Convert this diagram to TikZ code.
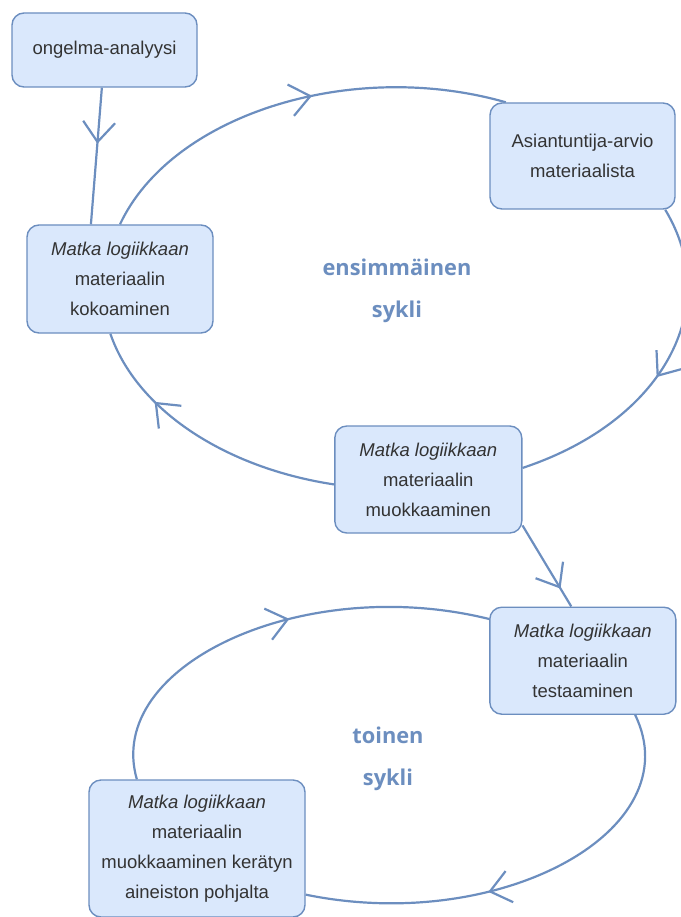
\documentclass[tikz,border=0pt]{standalone}
\usepackage{fontspec}
\setmainfont{Liberation Sans}
\newfontfamily\headfont{Open Sans}
\usetikzlibrary{arrows.meta,decorations.markings,backgrounds}
\definecolor{linecolor}{HTML}{6C8EBF}
\definecolor{boxfill}{HTML}{DAE8FC}
\definecolor{txtcolor}{HTML}{333333}
\tikzset{
  stepbox/.style={draw=linecolor, fill=boxfill, line width=1.4pt, rounded corners=12pt,
    text=txtcolor, align=center, inner sep=0pt, font=\fontsize{18.5}{30}\selectfont},
  cycleln/.style={linecolor, line width=2.2pt},
  cyclebarb/.tip={Straight Barb[length=20pt,width=32pt]},
  midarrow/.style={postaction={decorate, decoration={markings,
    mark=at position #1 with {\arrow{cyclebarb}}}}},
  cyclename/.style={text=linecolor, align=center,
    font=\headfont\bfseries\fontsize{21.8}{42}\selectfont},
}

\begin{document}
\begin{tikzpicture}[x=1pt, y=-1pt]
    \useasboundingbox (0,0) rectangle (680,917);
    % Boxes
    \node[stepbox, minimum width=185pt, minimum height=74pt] (ong) at (104.5,50) {ongelma-analyysi};
    \node[stepbox, minimum width=186pt, minimum height=108pt] (kok) at (120,279)
      {\textit{Matka logiikkaan}\\materiaalin\\kokoaminen};
    \node[stepbox, minimum width=185pt, minimum height=106pt] (asi) at (582.5,156)
      {Asiantuntija-arvio\\materiaalista};
    \node[stepbox, minimum width=187pt, minimum height=107pt] (muok) at (428.3,479.5)
      {\textit{Matka logiikkaan}\\materiaalin\\muokkaaminen};
    \node[stepbox, minimum width=186pt, minimum height=107pt] (test) at (582.8,660.7)
      {\textit{Matka logiikkaan}\\materiaalin\\testaaminen};
    \node[stepbox, minimum width=216pt, minimum height=137pt] (ker) at (197,848.5)
      {\textit{Matka logiikkaan}\\materiaalin\\muokkaaminen kerätyn\\aineiston pohjalta};
    % Cycle names
    \node[cyclename] (first) at (397,291) {ensimmäinen\\sykli};
    \node[cyclename] (second) at (388,759) {toinen\\sykli};
    \begin{scope}[on background layer]
      % First cycle
      \draw[cycleln, midarrow=0.55] (kok.north) .. controls (171.7,114.1) and (352.1,58.3) .. (asi.145);
      \draw[cycleln, midarrow=0.52] (asi.-33) .. controls (724.6,308.1) and (662.3,421.7) .. (muok.7);
      \draw[cycleln, midarrow=0.71] (muok.183) .. controls (223.6,467.7) and (136.1,408.9) .. (kok.-100);
      % Second cycle
      \draw[cycleln, midarrow=0.59] (test.-46) .. controls (691.4,830.5) and (499.8,934.5) .. (ker.-23);
      \draw[cycleln, midarrow=0.55] (ker.131) .. controls (103.8,665.1) and (303.4,573.0) .. (test.156);
      % Entry arrows
      \draw[cycleln, midarrow=0.41] (ong.-94) -- (kok.118);
      \draw[cycleln, midarrow=0.78] (muok.-26) -- (test.102);
    \end{scope}
\end{tikzpicture}
\end{document}
